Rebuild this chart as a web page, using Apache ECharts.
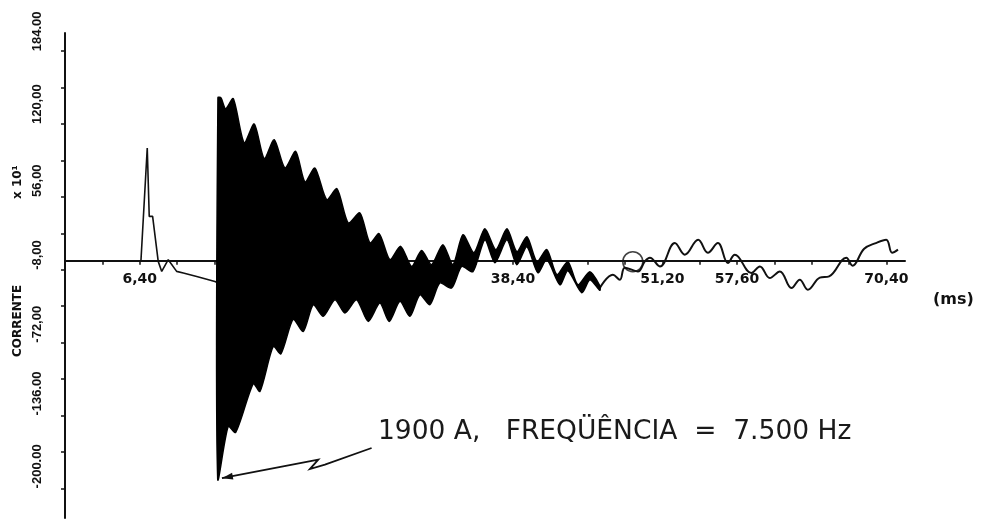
<!DOCTYPE html>
<html>
<head>
<meta charset="utf-8">
<script src="https://cdn.jsdelivr.net/npm/echarts@6/dist/echarts.min.js"></script>
<style>html,body{margin:0;padding:0;background:#fff}#c{width:989px;height:530px}</style>
</head>
<body>
<div id="c"></div>
<script>
// ---- data (time in ms, current in A x10) ----
var xLabelValues = [6.4, 38.4, 51.2, 57.6, 70.4];
var xLabelTexts = ['6,40', '38,40', '51,20', '57,60', '70,40'];
var xTickValues = [3.2, 6.4, 9.6, 12.8, 16, 19.2, 22.4, 25.6, 28.8, 32, 35.2, 38.4, 41.6, 44.8, 48, 51.2, 54.4, 57.6, 60.8, 64, 67.2, 70.4];
var yLabelValues = [-200, -136, -72, -8, 56, 120, 184];
var yLabelTexts = ['-200.00', '-136.00', '-72,00', '-8,00', '56,00', '120,00', '184.00'];
var yTickValues = [-200, -168, -136, -104, -72, -40, -8, 24, 56, 88, 120, 152, 184];

// pre-discharge trace
var preEvent = [[0,0],[6.0,0],[6.51,0],[7.05,99.0],[7.22,38.9],[7.51,38.9],[7.99,-0.6],[8.29,-9.4],[8.85,0.9],[9.57,-9.4],[10.14,-10.8],[11.29,-13.8],[12.85,-18.2],[13.08,-19.3]];

// envelope of the 7.5 kHz oscillation (upper edge / lower edge)
var envUpper = [[13.11,143.2],[13.37,142.9],[13.77,133.5],[14.42,142.3],[15.36,103.4],[16.22,120.1],[17.08,89.6],[17.93,106.3],[18.85,81.4],[19.77,96.0],[20.57,69.1],[21.42,81.4],[22.43,53.6],[23.31,63.2],[24.28,33.1],[25.28,41.9],[26.14,15.5],[26.93,23.7],[27.85,0.9],[28.77,12.6],[29.71,-5.0],[30.57,9.0],[31.42,-3.5],[32.39,14.1],[33.25,-3.5],[34.11,22.8],[35.05,7.0],[35.99,28.1],[36.93,9.7],[37.88,28.1],[38.73,7.9],[39.59,21.1],[40.45,-0.9],[41.30,9.7],[42.16,-12.3],[43.10,-0.9],[43.96,-21.1],[44.99,-9.7],[45.84,-22.0]];
var envLower = [[13.09,-191.7],[13.99,-145.5],[14.63,-150.8],[16.14,-108.0],[16.71,-114.8],[17.85,-75.3],[18.51,-81.7],[19.56,-51.5],[20.42,-62.1],[21.28,-38.6],[22.13,-48.9],[23.14,-34.3],[23.99,-45.9],[24.99,-34.3],[25.99,-53.3],[26.99,-37.2],[27.79,-53.3],[28.71,-35.7],[29.56,-48.9],[30.42,-29.9],[31.28,-38.6],[32.13,-19.6],[33.14,-24.0],[34.0,-5.0],[34.96,-9.7],[35.99,18.4],[36.85,-1.8],[37.88,18.4],[38.73,-3.5],[39.59,12.3],[40.53,-10.5],[41.30,0.9],[42.42,-21.1],[43.10,-8.8],[44.30,-28.1],[44.99,-16.7],[45.84,-26.0]];

// later, thin oscillation
var tailWave = [[45.84,-24.0],[46.96,-12.3],[47.56,-16.7],[47.99,-6.1],[49.10,-9.4],[49.70,-0.6],[50.13,2.6],[50.99,-5.0],[52.27,15.5],[53.13,5.3],[54.27,18.4],[55.10,7.0],[55.96,15.5],[56.82,-2.0],[57.41,5.3],[58.84,-10.8],[59.56,-5.0],[60.41,-15.2],[61.27,-9.4],[62.27,-24.0],[62.98,-16.7],[63.67,-25.5],[64.70,-14.9],[65.5,-13.8],[66.97,2.6],[67.5,-4.4],[68.5,10.5],[69.5,15.5],[70.39,18.4],[70.9,7.0],[71.4,9.7]];

// hand-drawn marks on the oscillogram
var circleMark = [[48.67,-0.9]];
var arrowPath = [[13.45,-191.0],[21.71,-174.8],[20.99,-183.0],[22.28,-179.2],[26.28,-164.5]];
var noteText = '1900 A,   FREQÜÊNCIA  =  7.500 Hz';

var Y_MIN = -226, Y_MAX = 200, GRID_TOP = 33, GRID_BOTTOM = 12, H = 530;
var zeroOffset = (H - GRID_TOP - GRID_BOTTOM) * (0 - Y_MIN) / (Y_MAX - Y_MIN);

var chart = echarts.init(document.getElementById('c'), null, {renderer: 'canvas'});
var ink = '#111';

function fmt(list, texts) {
  return function (v) {
    for (var i = 0; i < list.length; i++) if (Math.abs(list[i] - v) < 1e-6) return texts[i];
    return '';
  };
}

var option = {
  animation: false,
  backgroundColor: '#fff',
  grid: {left: 65, right: 84, top: GRID_TOP, bottom: GRID_BOTTOM, containLabel: false},
  xAxis: {
    type: 'value', min: 0, max: 72, position: 'bottom', offset: -zeroOffset,
    axisLine: {onZero: false, lineStyle: {color: ink, width: 2}},
    axisTick: {show: true, length: 4, customValues: xTickValues, lineStyle: {color: ink, width: 1.5}},
    axisLabel: {customValues: xLabelValues, formatter: fmt(xLabelValues, xLabelTexts), margin: 12,
      color: ink, fontFamily: 'DejaVu Sans', fontWeight: 'bold', fontSize: 14},
    splitLine: {show: false}
  },
  yAxis: {
    type: 'value', min: Y_MIN, max: Y_MAX,
    axisLine: {lineStyle: {color: ink, width: 2}},
    axisTick: {show: true, length: 4, customValues: yTickValues, lineStyle: {color: ink, width: 1.5}},
    axisLabel: {customValues: yLabelValues, formatter: fmt(yLabelValues, yLabelTexts), rotate: 90,
      align: 'left', verticalAlign: 'bottom', margin: 21,
      color: ink, fontFamily: 'Liberation Sans', fontWeight: 'bold', fontSize: 13},
    splitLine: {show: false}
  },
  series: [
    {
      type: 'line', name: 'pre', data: preEvent, showSymbol: false, symbol: 'none',
      lineStyle: {color: ink, width: 1.6}, z: 3
    },
    {
      type: 'custom', name: 'envelope', data: [[13, 0]],
      renderItem: function (params, api) {
        var pts = [];
        envUpper.forEach(function (p) { pts.push(api.coord(p)); });
        for (var i = envLower.length - 1; i >= 0; i--) pts.push(api.coord(envLower[i]));
        return {type: 'polygon', shape: {points: pts, smooth: 0.25}, style: {fill: '#000', stroke: '#000', lineWidth: 1.5}};
      },
      z: 4
    },
    {
      type: 'line', name: 'tail', data: tailWave, showSymbol: false, symbol: 'none', smooth: 0.4,
      lineStyle: {color: ink, width: 2}, z: 3
    },
    {
      type: 'scatter', name: 'mark', data: circleMark, symbol: 'circle', symbolSize: 20,
      itemStyle: {color: 'rgba(0,0,0,0)', borderColor: ink, borderWidth: 1.5}, z: 5
    }
  ]
};
chart.setOption(option);

// annotation arrow + note, positioned through the chart's own coordinate conversion
var px = arrowPath.map(function (p) { return chart.convertToPixel({gridIndex: 0}, p); });
var tip = px[0], nxt = px[1];
var ang = Math.atan2(nxt[1] - tip[1], nxt[0] - tip[0]);
var L = 11, W = 3.5;
var bx = tip[0] + Math.cos(ang) * L, by = tip[1] + Math.sin(ang) * L;
var head = [tip, [bx - Math.sin(ang) * W, by + Math.cos(ang) * W], [bx + Math.sin(ang) * W, by - Math.cos(ang) * W]];
chart.setOption({
  graphic: [
    {type: 'polyline', shape: {points: px}, style: {stroke: ink, lineWidth: 1.8, fill: null}, z: 10},
    {type: 'polygon', shape: {points: head}, style: {fill: ink}, z: 10},
    {type: 'text', left: 378, top: 419, style: {text: noteText, font: '26.5px "DejaVu Sans"', fill: '#1a1a1a'}, z: 10},
    {type: 'text', x: 933, y: 292, style: {text: '(ms)', font: 'bold 16px "DejaVu Sans"', fill: ink}, z: 10},
    {type: 'text', x: 12, y: 357, rotation: Math.PI / 2, style: {text: 'CORRENTE', font: 'bold 12px "DejaVu Sans"', fill: ink}, z: 10},
    {type: 'text', x: 12, y: 199, rotation: Math.PI / 2, style: {text: 'x 10¹', font: 'bold 12px "DejaVu Sans"', fill: ink}, z: 10}
  ]
});
</script>
</body>
</html>
